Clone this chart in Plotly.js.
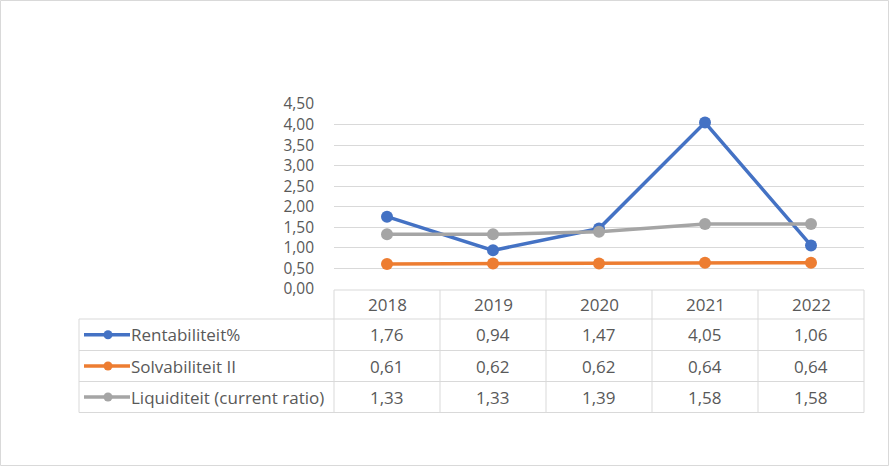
<!DOCTYPE html>
<html>
<head>
<meta charset="utf-8">
<script src="https://cdn.plot.ly/plotly-3.0.1.min.js"></script>
<style>
html,body{margin:0;padding:0;background:#fff;}
#chart{width:892px;height:468px;}
</style>
</head>
<body>
<div id="chart"></div>
<script>
// ---- data ----
const years = ['2018', '2019', '2020', '2021', '2022'];
const seriesNames = ['Rentabiliteit%', 'Solvabiliteit II', 'Liquiditeit (current ratio)'];
const rentabiliteit = [1.76, 0.94, 1.47, 4.05, 1.06];
const solvabiliteit = [0.61, 0.62, 0.62, 0.64, 0.64];
const liquiditeit = [1.33, 1.33, 1.39, 1.58, 1.58];
const yTicks = [0, 0.5, 1, 1.5, 2, 2.5, 3, 3.5, 4, 4.5];

// ---- style ----
const colors = ['#4472C4', '#ED7D31', '#A5A5A5'];
const textColor = '#595959';
const gridColor = '#D9D9D9';
const fontFamily = '"Open Sans", "Liberation Sans", sans-serif';

const W = 892, H = 468;
const L = 334, R = 864, T = 104, B = 289;
const pw = R - L, ph = B - T;
const px = v => (v - L) / pw;       // page x -> paper x
const py = v => (B - v) / ph;       // page y -> paper y

const allSeries = [rentabiliteit, solvabiliteit, liquiditeit];
const fmt = v => v.toFixed(2).replace('.', ',');

const traces = allSeries.map((vals, i) => ({
  type: 'scatter',
  mode: 'lines+markers',
  x: years,
  y: vals,
  name: seriesNames[i],
  line: {color: colors[i], width: 3.5},
  marker: {color: colors[i], size: 12},
  cliponaxis: false,
  hoverinfo: 'x+y'
}));

// table geometry (page px)
const tableLeft = 79;
const rowEdges = [290, 319, 350.5, 381.5, 412.5];
const colEdges = [334, 440, 546, 652, 758, 864];

const shapes = [];
const lineStyle = {color: gridColor, width: 1};
rowEdges.forEach((ry, k) => {
  shapes.push({type: 'line', xref: 'paper', yref: 'paper',
    x0: px(k === 0 ? colEdges[0] : tableLeft), x1: px(colEdges[5]),
    y0: py(ry), y1: py(ry), line: lineStyle});
});
colEdges.forEach(cx => {
  shapes.push({type: 'line', xref: 'paper', yref: 'paper',
    x0: px(cx), x1: px(cx), y0: py(rowEdges[0]), y1: py(rowEdges[4]), line: lineStyle});
});
shapes.push({type: 'line', xref: 'paper', yref: 'paper',
  x0: px(tableLeft), x1: px(tableLeft), y0: py(rowEdges[1]), y1: py(rowEdges[4]), line: lineStyle});

// legend keys in table
seriesNames.forEach((n, i) => {
  const cy = (rowEdges[i + 1] + rowEdges[i + 2]) / 2;
  shapes.push({type: 'line', xref: 'paper', yref: 'paper',
    x0: px(84), x1: px(130), y0: py(cy), y1: py(cy),
    line: {color: colors[i], width: 3.5}});
  shapes.push({type: 'circle', xref: 'paper', yref: 'paper',
    x0: px(103.5), x1: px(112.5), y0: py(cy - 4.5), y1: py(cy + 4.5),
    fillcolor: colors[i], line: {color: colors[i], width: 0}});
});

// outer chart border
shapes.push({type: 'rect', xref: 'paper', yref: 'paper',
  x0: px(0.5), x1: px(W - 3.5), y0: py(0.5), y1: py(H - 2.5),
  line: {color: gridColor, width: 1}, fillcolor: 'rgba(0,0,0,0)'});

const annotations = [];
const tfont = {family: fontFamily, size: 17, color: textColor};
years.forEach((y, j) => {
  annotations.push({xref: 'x', yref: 'paper', x: j, y: py((rowEdges[0] + rowEdges[1]) / 2),
    text: y, showarrow: false, font: tfont, xanchor: 'center', yanchor: 'middle'});
});
allSeries.forEach((vals, i) => {
  const cy = py((rowEdges[i + 1] + rowEdges[i + 2]) / 2);
  annotations.push({xref: 'paper', yref: 'paper', x: px(129), y: cy,
    text: seriesNames[i], showarrow: false, font: tfont, xanchor: 'left', yanchor: 'middle'});
  vals.forEach((v, j) => {
    annotations.push({xref: 'x', yref: 'paper', x: j, y: cy,
      text: fmt(v), showarrow: false, font: tfont, xanchor: 'center', yanchor: 'middle'});
  });
});

const layout = {
  width: W, height: H,
  margin: {l: L, r: W - R, t: T, b: H - B, pad: 0},
  paper_bgcolor: '#fff', plot_bgcolor: '#fff',
  separators: ',.',
  showlegend: false,
  font: {family: fontFamily, color: textColor},
  xaxis: {type: 'category', range: [-0.5, 4.5], showticklabels: false, showgrid: false,
    zeroline: false, showline: false, ticks: '', fixedrange: true},
  yaxis: {range: [0, 4.5], tickvals: yTicks, tickformat: '.2f',
    showgrid: true, gridcolor: gridColor, gridwidth: 1, zeroline: false, showline: false,
    ticks: '', ticklabelstandoff: 19, tickfont: {family: fontFamily, size: 15.5, color: textColor},
    fixedrange: true},
  shapes: shapes,
  annotations: annotations
};

Plotly.newPlot('chart', traces, layout, {displayModeBar: false, staticPlot: true});
</script>
</body>
</html>
